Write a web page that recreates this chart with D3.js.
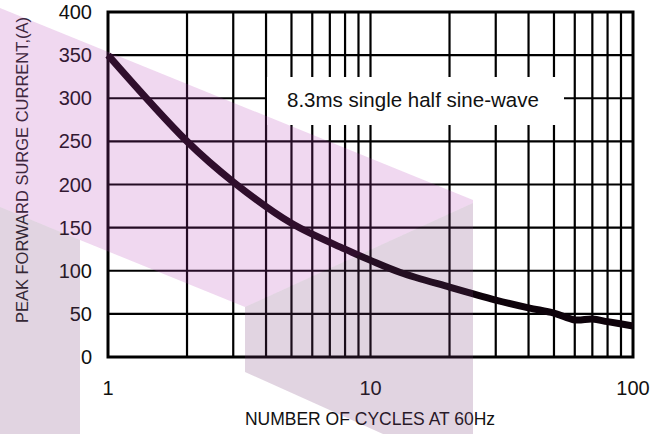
<!DOCTYPE html>
<html><head><meta charset="utf-8">
<script src="https://cdn.jsdelivr.net/npm/d3@7"></script>
<style>html,body{margin:0;padding:0;background:#fff;}svg{display:block;}</style>
</head><body>
<svg id="c" width="667" height="434" font-family="'Liberation Sans', Arial, sans-serif"></svg>
<script>
const cycles = [1, 2, 3, 5, 8, 10, 13, 20, 30, 40, 50, 60, 70, 80, 100];
const surgeCurrent = [350, 250, 203, 155, 125, 112, 98, 81, 66, 57, 51, 43, 44, 41, 36];
const yTicks = [0, 50, 100, 150, 200, 250, 300, 350, 400];
const xTickLabels = [1, 10, 100];
const annotation = "8.3ms single half sine-wave";
const xTitle = "NUMBER OF CYCLES AT 60Hz";
const yTitle = "PEAK FORWARD SURGE CURRENT,(A)";

const svg = d3.select("#c");
const L = 108, R = 633, T = 12, B = 357;
const x = d3.scaleLog().domain([1, 100]).range([L, R]);
const y = d3.scaleLinear().domain([0, 400]).range([B, T]);

// grid
const xGrid = [];
for (let d = 1; d <= 10; d *= 10) for (let k = 2; k <= 9; k++) xGrid.push(k * d);
xGrid.push(10);
svg.append("g").selectAll("line").data(xGrid).join("line")
  .attr("x1", d => x(d)).attr("x2", d => x(d)).attr("y1", T).attr("y2", B)
  .attr("stroke", "#000").attr("stroke-width", 2.2);
svg.append("g").selectAll("line").data(yTicks.slice(1, -1)).join("line")
  .attr("x1", L).attr("x2", R).attr("y1", d => y(d)).attr("y2", d => y(d))
  .attr("stroke", "#000").attr("stroke-width", 2.2);

// annotation box
svg.append("rect").attr("x", 267).attr("y", 77).attr("width", 297).attr("height", 48).attr("fill", "#fff");
svg.append("text").attr("x", 287).attr("y", 107).attr("font-size", 20.5).attr("fill", "#111").text(annotation);

// frame
svg.append("rect").attr("x", L).attr("y", T).attr("width", R - L).attr("height", B - T)
  .attr("fill", "none").attr("stroke", "#000").attr("stroke-width", 3);

// curve
const line = d3.line().x((d, i) => x(cycles[i])).y(d => y(d)).curve(d3.curveCatmullRom.alpha(0.5));
svg.append("path").attr("d", line(surgeCurrent)).attr("fill", "none")
  .attr("stroke", "#0e030b").attr("stroke-width", 7).attr("stroke-linejoin", "round");

// y tick labels
svg.append("g").selectAll("text").data(yTicks).join("text")
  .attr("x", 92).attr("y", d => y(d) + 7).attr("text-anchor", "end")
  .attr("font-size", 20).attr("fill", "#111").text(d => d);
// x tick labels
svg.append("g").selectAll("text").data(xTickLabels).join("text")
  .attr("x", d => x(d)).attr("y", 395).attr("text-anchor", "middle")
  .attr("font-size", 20).attr("fill", "#111").text(d => d);

// titles
svg.append("text").attr("x", 370).attr("y", 425).attr("text-anchor", "middle")
  .attr("font-size", 17.5).attr("fill", "#111").text(xTitle);
svg.append("text").attr("transform", "translate(28,170) rotate(-90)").attr("text-anchor", "middle")
  .attr("font-size", 16.5).attr("fill", "#222").text(yTitle);

// watermark overlay
const wm = svg.append("g").style("pointer-events", "none");
wm.append("path").attr("d", "M0,8 L473,200 L473,203 L245,307 L80,240 L0,207 Z")
  .attr("fill", "rgb(180,60,180)").attr("fill-opacity", 0.2);
wm.append("path").attr("d", "M0,207 L80,240 L80,434 L0,434 Z M245,307 L473,203 L473,434 L383,434 L245,372 Z")
  .attr("fill", "rgb(120,60,120)").attr("fill-opacity", 0.22);
</script>
</body></html>
